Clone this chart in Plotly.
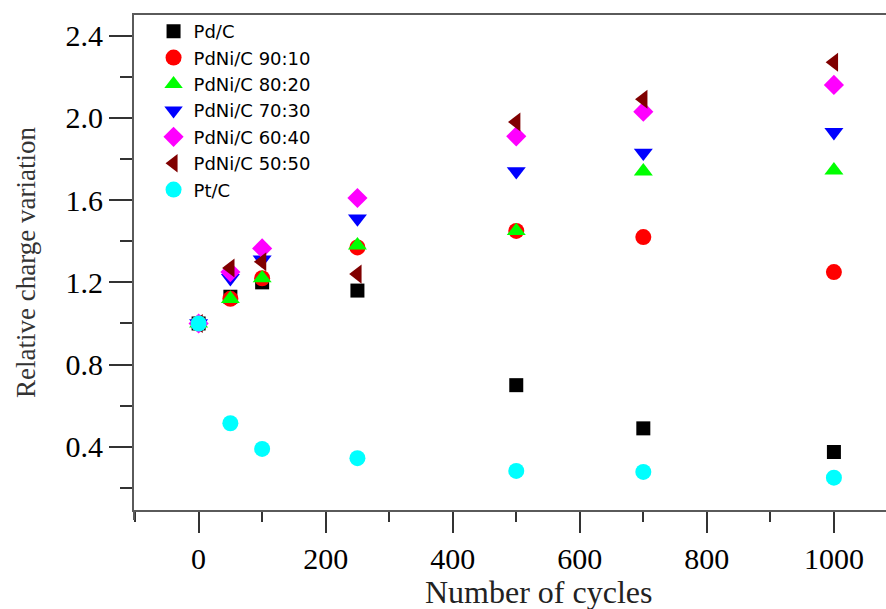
import plotly.graph_objects as go

cycles = [0, 50, 100, 250, 500, 700, 1000]

series_names = ["Pd/C", "PdNi/C 90:10", "PdNi/C 80:20", "PdNi/C 70:30",
                "PdNi/C 60:40", "PdNi/C 50:50", "Pt/C"]

pd_c = [1.00, 1.13, 1.20, 1.16, 0.70, 0.49, 0.375]
pdni_90_10 = [1.00, 1.12, 1.22, 1.37, 1.45, 1.42, 1.25]
pdni_80_20 = [1.00, 1.12, 1.22, 1.38, 1.45, 1.74, 1.745]
pdni_70_30 = [1.00, 1.22, 1.31, 1.51, 1.74, 1.83, 1.93]
pdni_60_40 = [1.00, 1.25, 1.365, 1.61, 1.91, 2.03, 2.16]
pdni_50_50 = [1.00, 1.27, 1.30, 1.24, 1.98, 2.09, 2.27]
pt_c = [1.00, 0.515, 0.39, 0.345, 0.283, 0.278, 0.25]

series_values = [pd_c, pdni_90_10, pdni_80_20, pdni_70_30, pdni_60_40, pdni_50_50, pt_c]
colors = ["#000000", "#ff0000", "#00ff00", "#0000ff", "#ff00ff", "#800000", "#00ffff"]
symbols = ["square", "circle", "triangle-up", "triangle-down", "diamond", "triangle-left", "circle"]
sizes = [14, 16, 16.5, 16.5, 15.5, 16.5, 16]

x_ticks = [0, 200, 400, 600, 800, 1000]
y_ticks = [0.4, 0.8, 1.2, 1.6, 2.0, 2.4]

fig = go.Figure()
for name, vals, c, s, sz in zip(series_names, series_values, colors, symbols, sizes):
    fig.add_trace(go.Scatter(
        x=cycles, y=vals, mode="markers", name=name,
        marker=dict(color=c, symbol=s, size=sz, line=dict(width=0)),
    ))

axis_common = dict(
    showgrid=False, zeroline=False,
    linecolor="#5a5a5a", linewidth=2,
    ticks="outside", tickcolor="#333333", tickwidth=1.5,
    tickfont=dict(family="Liberation Serif", size=30, color="#000000"),
)

fig.update_xaxes(
    range=[-101.7, 1082], tickvals=x_ticks, ticklen=21,
    mirror=True, showline=True,
    minor=dict(dtick=100, tick0=0, ticklen=10, tickcolor="#333333", tickwidth=1.5, ticks="outside"),
    **axis_common,
)
fig.update_yaxes(
    range=[0.093, 2.50], tickvals=y_ticks, tickformat=".1f", ticklen=23,
    showline=True,
    minor=dict(dtick=0.4, tick0=0.2, ticklen=12, tickcolor="#333333", tickwidth=1.5, ticks="outside"),
    title=dict(text="Relative charge variation", font=dict(family="Liberation Serif", size=27, color="#333333"), standoff=22),
    **axis_common,
)

fig.add_shape(type="line", xref="paper", yref="paper", x0=0, x1=0, y0=0, y1=-0.02,
              line=dict(color="#5a5a5a", width=2))

fig.add_annotation(text="Number of cycles", xref="paper", yref="paper",
                   x=(538 - 134) / 752, y=-0.165, xanchor="center", yanchor="middle",
                   showarrow=False,
                   font=dict(family="Liberation Serif", size=32, color="#222222"))

fig.update_layout(
    width=886, height=609,
    margin=dict(l=134, r=0, t=15, b=99),
    paper_bgcolor="white", plot_bgcolor="white",
    showlegend=True,
    legend=dict(x=0.026, y=1.004, xanchor="left", yanchor="top",
                bgcolor="rgba(0,0,0,0)", borderwidth=0,
                font=dict(family="DejaVu Sans", size=18, color="#000000")),
)

fig.write_html("out.html")
